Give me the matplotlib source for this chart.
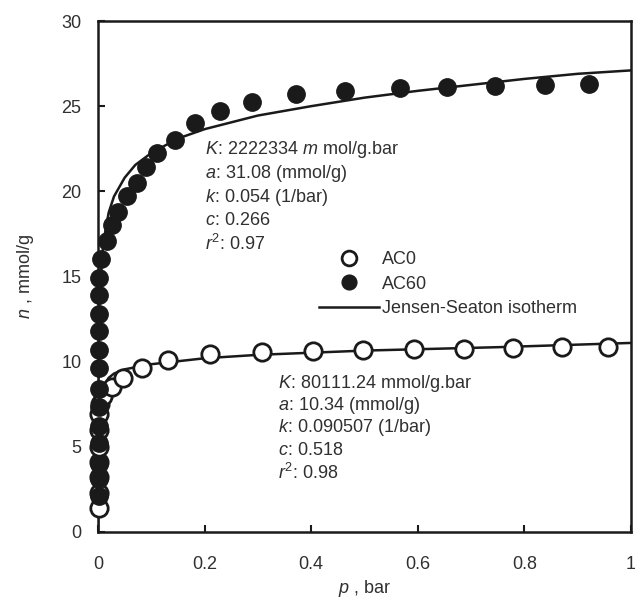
import matplotlib
matplotlib.use("Agg")
import matplotlib.pyplot as plt

ac0_p = [0.001, 0.001, 0.001, 0.001, 0.001, 0.001, 0.002, 0.004, 0.01, 0.026, 0.047,
         0.082, 0.132, 0.21, 0.307, 0.404, 0.498, 0.592, 0.686, 0.779, 0.871, 0.957]
ac0_n = [1.4, 2.3, 3.2, 4.1, 5.0, 6.0, 6.9, 7.5, 8.0, 8.5, 9.05,
         9.6, 10.1, 10.45, 10.55, 10.65, 10.7, 10.75, 10.76, 10.8, 10.84, 10.86]

ac60_p = [0.002, 0.002, 0.002, 0.002, 0.002, 0.002, 0.002, 0.002, 0.002, 0.002, 0.002,
          0.002, 0.002, 0.006, 0.016, 0.026, 0.038, 0.054, 0.073, 0.09, 0.11, 0.145,
          0.182, 0.228, 0.288, 0.371, 0.463, 0.567, 0.655, 0.745, 0.838, 0.921]
ac60_n = [2.1, 3.1, 4.0, 5.2, 6.2, 7.35, 8.4, 9.6, 10.7, 11.8, 12.8,
          13.9, 14.9, 16.0, 17.06, 18.0, 18.8, 19.7, 20.5, 21.4, 22.25, 23.0,
          24.0, 24.7, 25.27, 25.7, 25.9, 26.06, 26.1, 26.2, 26.25, 26.3]

# Jensen-Seaton curves
fit60_p = [0, 0.00001, 0.0001, 0.001, 0.003, 0.01, 0.02, 0.03, 0.05, 0.07, 0.1, 0.15,
           0.2, 0.3, 0.4, 0.5, 0.6, 0.7, 0.8, 0.9, 1.0]
fit60_n = [0, 1.9, 5.4, 10.9, 13.9, 17.0, 18.75, 19.7, 20.8, 21.55, 22.25, 23.1,
           23.65, 24.45, 25.0, 25.5, 25.9, 26.25, 26.6, 26.9, 27.1]
fit0_p = [0, 0.0001, 0.0003, 0.001, 0.002, 0.005, 0.01, 0.02, 0.03, 0.05, 0.1,
          0.2, 0.3, 0.5, 0.75, 1.0]
fit0_n = [0, 2.4, 3.95, 5.85, 6.8, 7.9, 8.55, 9.05, 9.3, 9.55, 9.85,
          10.2, 10.4, 10.65, 10.85, 11.1]

ac60_text = ["$K$: 2222334 $m$ mol/g.bar", "$a$: 31.08 (mmol/g)", "$k$: 0.054 (1/bar)",
             "$c$: 0.266", "$r^{\\mathrm{2}}$: 0.97"]
ac0_text = ["$K$: 80111.24 mmol/g.bar", "$a$: 10.34 (mmol/g)", "$k$: 0.090507 (1/bar)",
            "$c$: 0.518", "$r^{\\mathrm{2}}$: 0.98"]

plt.rcParams["font.family"] = ["Liberation Sans", "DejaVu Sans"]
plt.rcParams["mathtext.fontset"] = "custom"
plt.rcParams["mathtext.rm"] = "Liberation Sans"
plt.rcParams["mathtext.it"] = "Liberation Sans:italic"

INK = "#1a1a1a"
TXT = "#303030"
FS = 13
W, H = 635, 600

fig = plt.figure(figsize=(W / 100, H / 100), dpi=100)
ax = fig.add_axes([98 / W, 68 / H, 533 / W, 511 / H])

ax.plot(fit60_p, fit60_n, color=INK, lw=1.8, zorder=2)
ax.plot(fit0_p, fit0_n, color=INK, lw=1.8, zorder=2, label="Jensen-Seaton isotherm")
ax.plot(ac0_p, ac0_n, "o", ms=12.5, mfc="white", mec=INK, mew=2.0, ls="none",
        zorder=3, label="AC0", clip_on=False)
ax.plot(ac60_p, ac60_n, "o", ms=12.5, mfc=INK, mec=INK, mew=1.0, ls="none",
        zorder=4, label="AC60", clip_on=False)

ax.set_xlim(0, 1)
ax.set_ylim(0, 30)
ax.set_xticks([0, 0.2, 0.4, 0.6, 0.8, 1.0])
ax.set_xticklabels(["0", "0.2", "0.4", "0.6", "0.8", "1"])
ax.set_yticks([0, 5, 10, 15, 20, 25, 30])
ax.tick_params(direction="in", length=5, width=1.5, color=INK, labelsize=FS,
               labelcolor=TXT)
ax.tick_params(axis="x", pad=17)
ax.tick_params(axis="y", pad=12)
for s in ax.spines.values():
    s.set_linewidth(1.8)
    s.set_color(INK)

ax.set_xlabel("$p$ , bar", fontsize=FS, color=TXT, labelpad=4)
ax.set_ylabel("$n$ , mmol/g", fontsize=FS, color=TXT, labelpad=18)

# parameter blocks, placed in figure pixels measured from the top-left
for i, t in enumerate(ac60_text):
    fig.text(205 / W, 1 - (150 + i * 23.5) / H, t, fontsize=FS, color=TXT, va="center")
for i, t in enumerate(ac0_text):
    fig.text(278 / W, 1 - (383 + i * 22.5) / H, t, fontsize=FS, color=TXT, va="center")

handles, labels = ax.get_legend_handles_labels()
order = [labels.index("AC0"), labels.index("AC60"), labels.index("Jensen-Seaton isotherm")]
leg = ax.legend([handles[i] for i in order], [labels[i] for i in order],
                loc="upper left", bbox_to_anchor=(0.415, 0.55), frameon=False,
                fontsize=FS, handlelength=3.3, handletextpad=0.2, labelspacing=0.42,
                borderpad=0, borderaxespad=0, markerscale=0.85)
for t in leg.get_texts():
    t.set_color(TXT)

fig.savefig("out.png", dpi=100)
